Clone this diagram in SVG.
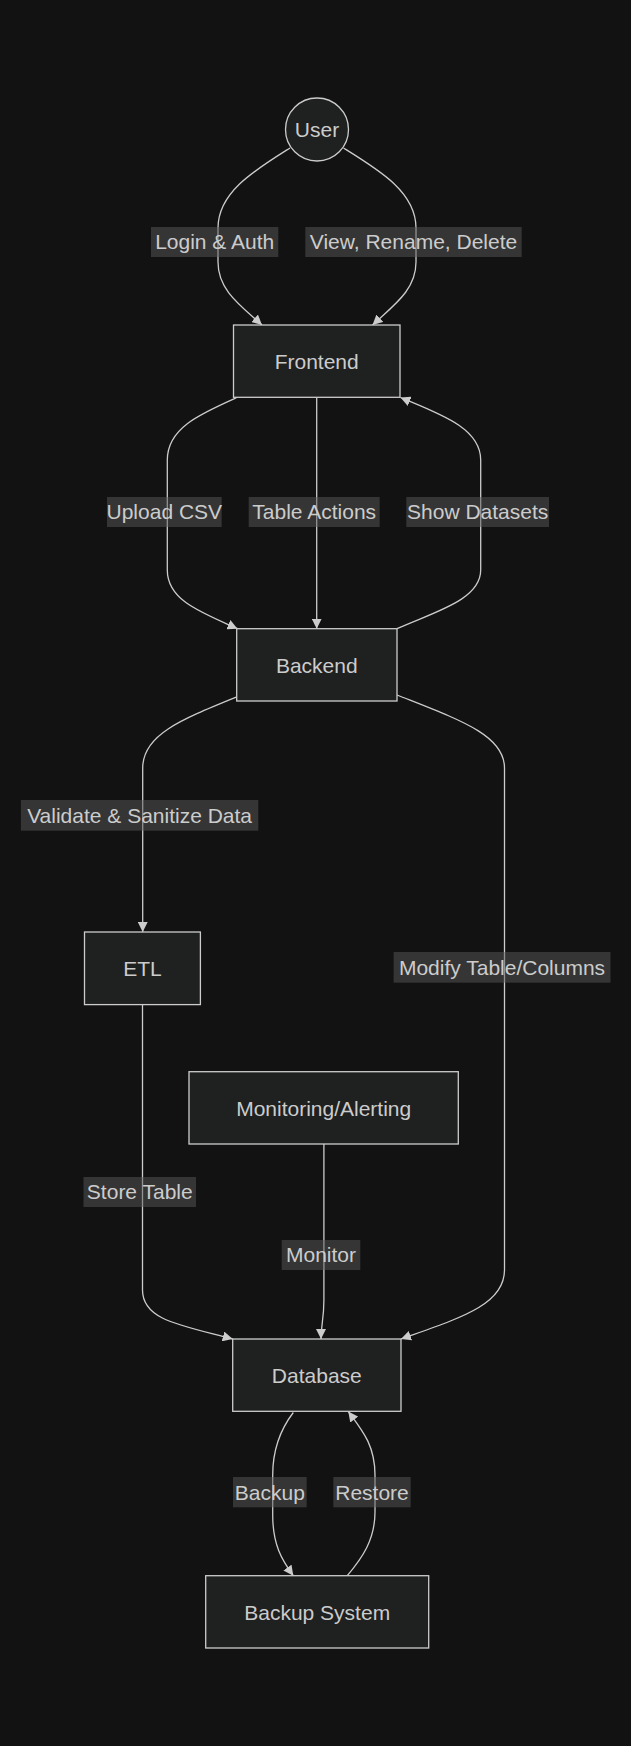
<svg xmlns="http://www.w3.org/2000/svg" width="631" height="1746" viewBox="0 0 631 1746">
<style>
.bg{fill:#121212}
.node rect,.node circle{fill:#1f2020;stroke:#cccccc;stroke-width:1.3}
.lbl{font-family:"Liberation Sans",Arial,sans-serif;font-size:21px;fill:#cccccc;text-anchor:middle}
.edge{fill:none;stroke:#cccccc;stroke-width:1.3}
.elbg{fill:#585858;fill-opacity:0.5}
</style>
<defs>
<marker id="arr" markerUnits="userSpaceOnUse" markerWidth="10" markerHeight="10" refX="10" refY="5" orient="auto" viewBox="0 0 10 10">
<path d="M0,0 L10,5 L0,10 z" fill="#cccccc"/>
</marker>
</defs>
<rect class="bg" x="0" y="0" width="631" height="1746"/>
<g id="connectors">
<path class="edge" marker-end="url(#arr)" d="M290,148 C255,170 218,192 218,228 L218,262 C218,290 240,305 262,325"/>
<path class="edge" marker-end="url(#arr)" d="M343.5,148 C379,170 416,192 416,228 L416,262 C416,290 394,305 372.5,325"/>
<path class="edge" marker-end="url(#arr)" d="M237,397.5 C200,414 167.3,428 167.3,460 L167.3,570 C167.3,600 200,612 237.5,628.7"/>
<path class="edge" marker-end="url(#arr)" d="M316.7,397.5 L316.7,628.7"/>
<path class="edge" marker-end="url(#arr)" d="M397,628.7 C434,612 480.7,600 480.7,570 L480.7,460 C480.7,428 440,414 400.5,397.5"/>
<path class="edge" marker-end="url(#arr)" d="M236.5,697 C180,720 142.7,735 142.7,768 L142.7,932"/>
<path class="edge" marker-end="url(#arr)" d="M397,695 C460,720 504.5,735 504.5,768 L504.5,1270 C504.5,1305 460,1318 401,1339"/>
<path class="edge" marker-end="url(#arr)" d="M142.5,1005 L142.5,1290 C142.5,1320 180,1325 232.7,1339"/>
<path class="edge" marker-end="url(#arr)" d="M323.9,1144 L323.9,1300 C323.9,1320 321,1325 321,1339"/>
<path class="edge" marker-end="url(#arr)" d="M293.3,1412.5 C280,1430 272.7,1450 272.7,1475 L272.7,1515 C272.7,1545 282,1560 293.3,1575.7"/>
<path class="edge" marker-end="url(#arr)" d="M347.3,1575.7 C362,1558 375,1540 375,1512 L375,1475 C375,1445 362,1430 348.3,1411.5"/>
<g id="edge-labels">
<rect class="elbg" x="151" y="227" width="127.3" height="30"/>
<text class="lbl" x="214.7" y="249">Login &amp; Auth</text>
<rect class="elbg" x="305.3" y="227" width="216.4" height="30"/>
<text class="lbl" x="413.5" y="249">View, Rename, Delete</text>
<rect class="elbg" x="107" y="497" width="114.7" height="30"/>
<text class="lbl" x="164.3" y="519">Upload CSV</text>
<rect class="elbg" x="248.7" y="497" width="131" height="30"/>
<text class="lbl" x="314.2" y="519">Table Actions</text>
<rect class="elbg" x="406.3" y="497" width="142.7" height="30"/>
<text class="lbl" x="477.7" y="519">Show Datasets</text>
<rect class="elbg" x="20.9" y="800" width="237.4" height="30.7"/>
<text class="lbl" x="139.6" y="822.5">Validate &amp; Sanitize Data</text>
<rect class="elbg" x="393.6" y="952" width="216.9" height="30.7"/>
<text class="lbl" x="502" y="974.5">Modify Table/Columns</text>
<rect class="elbg" x="83.5" y="1177" width="112.5" height="30"/>
<text class="lbl" x="139.8" y="1199">Store Table</text>
<rect class="elbg" x="281.7" y="1240" width="78.6" height="30"/>
<text class="lbl" x="321" y="1262">Monitor</text>
<rect class="elbg" x="233" y="1477" width="73.7" height="30.3"/>
<text class="lbl" x="269.8" y="1499.5">Backup</text>
<rect class="elbg" x="333.3" y="1477" width="77.4" height="30.3"/>
<text class="lbl" x="372" y="1499.5">Restore</text>
</g>
</g>
<g id="User" class="node">
<circle cx="317" cy="129.5" r="31.5"/>
<text class="lbl" x="317" y="137">User</text>
</g>
<g id="Frontend" class="node">
<rect x="233.5" y="325" width="166.5" height="72.3"/>
<text class="lbl" x="316.7" y="368.5">Frontend</text>
</g>
<g id="Backend" class="node">
<rect x="236.7" y="628.7" width="160.3" height="72.3"/>
<text class="lbl" x="316.8" y="672.5">Backend</text>
</g>
<g id="ETL" class="node">
<rect x="84.5" y="932" width="115.9" height="72.6"/>
<text class="lbl" x="142.5" y="976">ETL</text>
</g>
<g id="Monitoring" class="node">
<rect x="189" y="1071.7" width="269.3" height="72.3"/>
<text class="lbl" x="323.7" y="1115.5">Monitoring/Alerting</text>
</g>
<g id="Database" class="node">
<rect x="232.7" y="1339" width="168.3" height="72.3"/>
<text class="lbl" x="316.8" y="1382.5">Database</text>
</g>
<g id="BackupSystem" class="node">
<rect x="205.7" y="1575.7" width="223" height="72.3"/>
<text class="lbl" x="317.2" y="1619.5">Backup System</text>
</g>
</svg>
